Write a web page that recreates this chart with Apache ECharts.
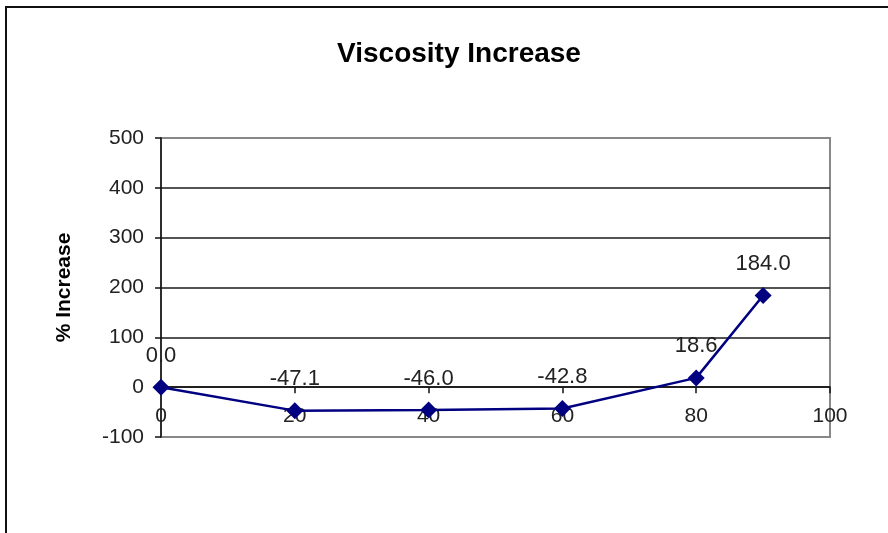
<!DOCTYPE html>
<html>
<head>
<meta charset="utf-8">
<title>Viscosity Increase</title>
<script src="https://cdn.jsdelivr.net/npm/echarts@6/dist/echarts.min.js"></script>
<style>
  html, body { margin: 0; padding: 0; background: #ffffff; }
  #chart { width: 888px; height: 533px; }
</style>
</head>
<body>
<div id="chart"></div>
<script>
// Measurement points (x) and the viscosity change in percent (y)
const xValues = [0, 20, 40, 60, 80, 90];
const increasePct = [0.0, -47.1, -46.0, -42.8, 18.6, 184.0];

// Axis ranges and steps
const xMin = 0, xMax = 100, xStep = 20;
const yMin = -100, yMax = 500, yStep = 100;

const FONT = '"Liberation Sans", Arial, sans-serif';
const points = xValues.map((x, i) => [x, increasePct[i]]);

// Light border on the outer plot edges, dark lines inside
const gridLineColors = ['#888888', '#1a1a1a', '#1a1a1a', '#1a1a1a', '#1a1a1a', '#1a1a1a', '#888888'];

const chart = echarts.init(document.getElementById('chart'), null, { renderer: 'canvas' });
chart.setOption({
  backgroundColor: '#ffffff',
  animation: false,
  title: {
    text: 'Viscosity Increase',
    left: 454,
    textAlign: 'center',
    top: 35,
    textStyle: { fontFamily: FONT, fontSize: 28, fontWeight: 'bold', color: '#000000' }
  },
  graphic: [{
    type: 'rect',
    shape: { x: 6, y: 7, width: 1000, height: 1000 },
    style: { fill: 'none', stroke: '#111111', lineWidth: 2 },
    silent: true,
    z: 0
  }],
  grid: {
    left: 161, right: 58, top: 138, bottom: 96,
    show: true, borderColor: '#888888', borderWidth: 2, backgroundColor: 'transparent'
  },
  xAxis: {
    type: 'value',
    min: xMin, max: xMax, interval: xStep,
    axisLine: { show: true, onZero: true, lineStyle: { color: '#111111', width: 1.5 } },
    axisTick: { show: true, inside: false, length: 6, lineStyle: { color: '#111111', width: 1.5 } },
    // labels sit just under the zero line
    axisLabel: { margin: -31, fontFamily: FONT, fontSize: 21, color: '#222222' },
    splitLine: { show: false }
  },
  yAxis: {
    type: 'value',
    min: yMin, max: yMax, interval: yStep,
    name: '% Increase',
    nameLocation: 'middle',
    nameGap: 86,
    nameTextStyle: { fontFamily: FONT, fontSize: 21, fontWeight: 'bold', color: '#000000' },
    axisLine: { show: true, onZero: false, lineStyle: { color: '#111111', width: 1.5 } },
    axisTick: { show: true, inside: false, length: 6, lineStyle: { color: '#111111', width: 1.5 } },
    axisLabel: { margin: 17, fontFamily: FONT, fontSize: 21, color: '#222222' },
    splitLine: { show: true, lineStyle: { color: gridLineColors, width: 1.5 } }
  },
  series: [{
    type: 'line',
    data: points,
    symbol: 'diamond',
    symbolSize: 17,
    lineStyle: { color: '#000080', width: 2.5 },
    itemStyle: { color: '#000080' },
    label: {
      show: true,
      position: 'top',
      distance: 12,
      formatter: p => p.value[1].toFixed(1),
      fontFamily: FONT,
      fontSize: 22,
      color: '#222222'
    },
    z: 5
  }]
});
</script>
</body>
</html>
